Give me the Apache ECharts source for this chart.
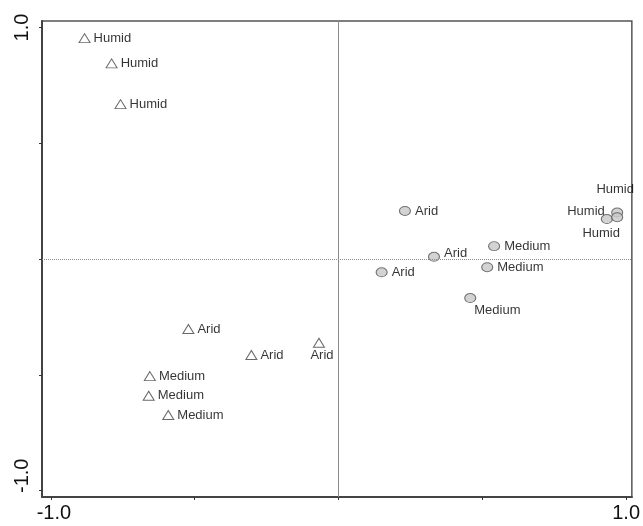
<!DOCTYPE html>
<html>
<head>
<meta charset="utf-8">
<script src="https://cdn.jsdelivr.net/npm/echarts@6/dist/echarts.min.js"></script>
<style>
  html, body { margin: 0; padding: 0; background: #fff; }
  #chart { width: 643px; height: 526px; }
</style>
</head>
<body>
<div id="chart"></div>
<script>
// Sample scores (drawn as triangles)
const siteNames = ['Humid', 'Humid', 'Humid', 'Arid', 'Arid', 'Arid', 'Medium', 'Medium', 'Medium'];
const siteX = [-0.883, -0.789, -0.758, -0.522, -0.303, -0.068, -0.656, -0.660, -0.592];
const siteY = [0.954, 0.845, 0.669, -0.302, -0.414, -0.361, -0.505, -0.590, -0.673];

// Group centroid scores (drawn as grey discs)
const groupNames = ['Arid', 'Arid', 'Arid', 'Medium', 'Medium', 'Medium', 'Humid', 'Humid', 'Humid'];
const groupX = [0.231, 0.332, 0.150, 0.541, 0.517, 0.458, 0.969, 0.933, 0.969];
const groupY = [0.208, 0.010, -0.057, 0.056, -0.035, -0.168, 0.201, 0.173, 0.181];

// Axis ticks and labelled values
const tickValues = [-1, -0.5, 0, 0.5, 1];
const labelValues = [-1, 1];

// Label placement overrides, by point index (default: to the right)
const siteLabelStyle = {
  5: { position: 'bottom', distance: 1, offset: [3, 0] }
};
const groupLabelStyle = {
  1: { offset: [0, -3] },
  5: { position: 'bottom', distance: 1, align: 'left', offset: [4, 0] },
  6: { position: 'top', distance: 5, offset: [-2, -7] },
  7: { position: 'left', distance: 0, offset: [4, -8] },
  8: { position: 'bottom', distance: 5, offset: [-16, 0] }
};

const labelFont = { fontFamily: 'Liberation Sans, Arial, sans-serif', fontSize: 13, color: '#000' };

function buildPoints(xs, ys, names, overrides) {
  return xs.map((x, i) => {
    const item = { value: [x, ys[i]], name: names[i] };
    if (overrides[i]) item.label = Object.assign({}, overrides[i]);
    return item;
  });
}

const chart = echarts.init(document.getElementById('chart'), null, { renderer: 'canvas' });

const axisLabelFont = { fontFamily: 'Liberation Sans, Arial, sans-serif', fontSize: 20, color: '#111' };

chart.setOption({
  animation: false,
  backgroundColor: '#fff',
  grid: {
    left: 42, right: 7, top: 21, bottom: 29,
    show: true, borderColor: '#555', borderWidth: 1.5, backgroundColor: 'transparent'
  },
  xAxis: {
    type: 'value',
    min: -1.031, max: 1.020,
    axisLine: { show: true, onZero: false, lineStyle: { color: '#444', width: 2 } },
    axisTick: { show: true, length: 3, customValues: tickValues, lineStyle: { color: '#333', width: 1 } },
    axisLabel: {
      show: true, customValues: labelValues, margin: 6,
      formatter: v => (v < 0 ? '{neg|' + v.toFixed(1) + '}' : v.toFixed(1)),
      rich: { neg: { ...axisLabelFont, padding: [0, 0, 0, 6] } },
      ...axisLabelFont
    },
    splitLine: { show: false }
  },
  yAxis: {
    type: 'value',
    min: -1.027, max: 1.028,
    axisLine: { show: true, onZero: false, lineStyle: { color: '#444', width: 2 } },
    axisTick: { show: true, length: 3, customValues: tickValues, lineStyle: { color: '#333', width: 1 } },
    axisLabel: {
      show: true, customValues: labelValues, margin: 10, rotate: 90,
      formatter: v => (v < 0 ? '{neg|' + v.toFixed(1) + '}' : v.toFixed(1)),
      rich: { neg: { ...axisLabelFont, padding: [0, 0, 0, 30] } },
      ...axisLabelFont
    },
    splitLine: { show: false }
  },
  series: [
    {
      name: 'samples',
      type: 'scatter',
      symbol: 'triangle',
      symbolSize: [11, 9],
      itemStyle: { color: '#fff', borderColor: '#444', borderWidth: 1 },
      label: { show: true, position: 'right', distance: 3, formatter: p => p.name, ...labelFont },
      data: buildPoints(siteX, siteY, siteNames, siteLabelStyle),
      z: 3,
      markLine: {
        silent: true,
        symbol: 'none',
        label: { show: false },
        animation: false,
        data: [
          { xAxis: 0, lineStyle: { color: '#8a8a8a', width: 1, type: 'solid' } },
          { yAxis: 0, lineStyle: { color: '#8a8a8a', width: 1, type: 'dotted' } }
        ]
      }
    },
    {
      name: 'groups',
      type: 'scatter',
      symbol: 'circle',
      symbolSize: [11, 9],
      itemStyle: { color: '#c8c8c8', borderColor: '#555', borderWidth: 1 },
      label: { show: true, position: 'right', distance: 4, formatter: p => p.name, ...labelFont },
      data: buildPoints(groupX, groupY, groupNames, groupLabelStyle),
      z: 4
    }
  ]
});
</script>
</body>
</html>
